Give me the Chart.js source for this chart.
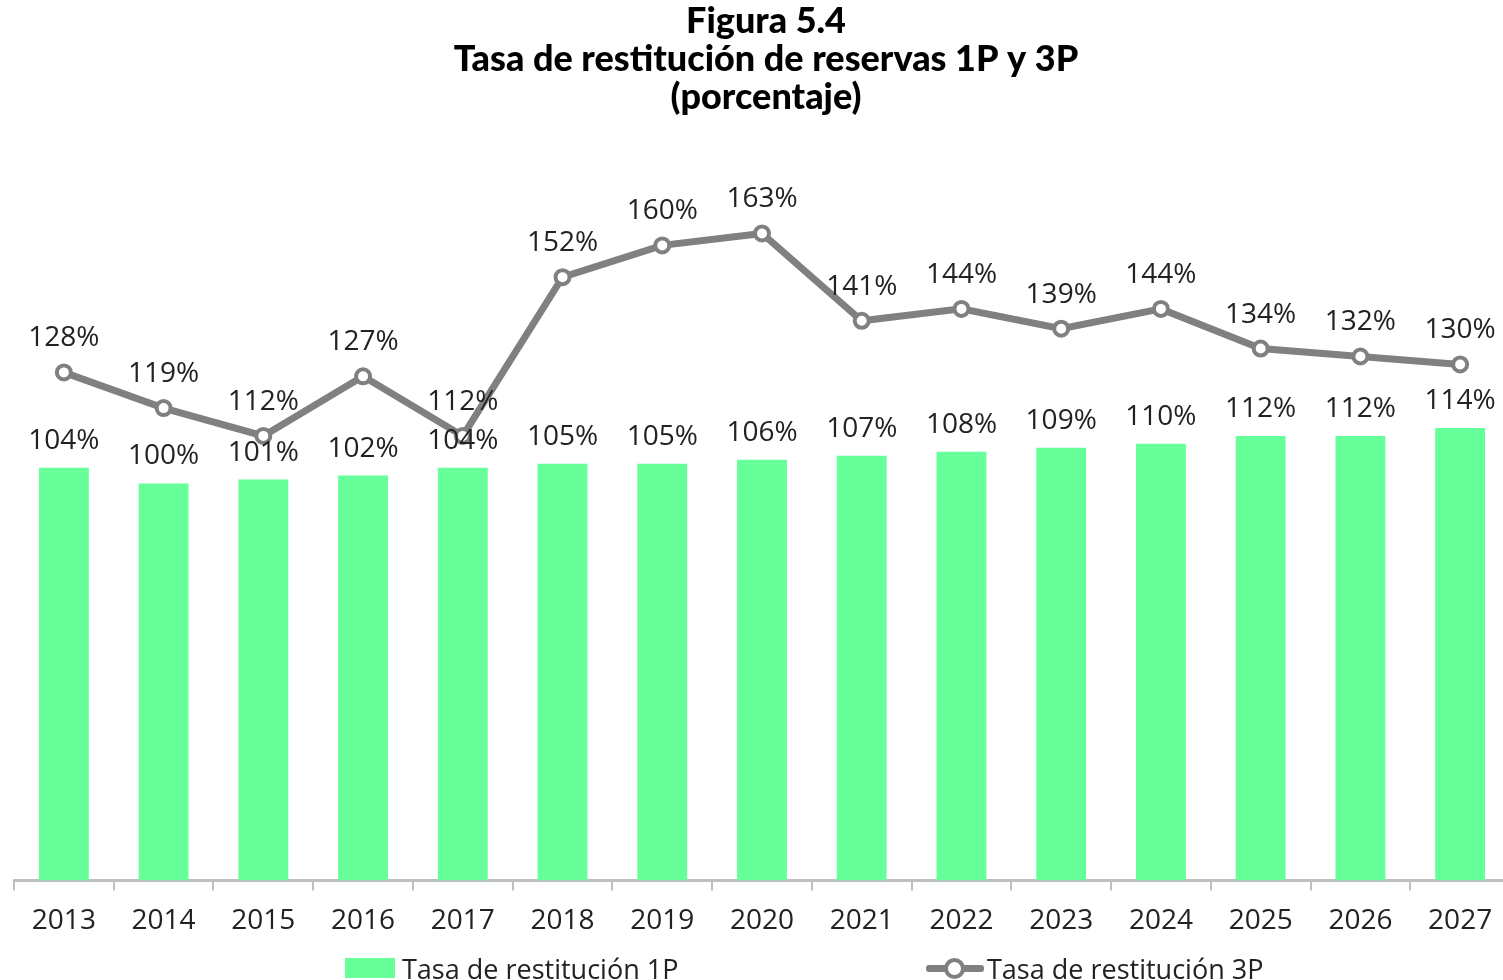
<!DOCTYPE html>
<html>
<head>
<meta charset="utf-8">
<script src="https://cdn.jsdelivr.net/npm/chart.js@4.4.1/dist/chart.umd.min.js"></script>
<style>
  html, body { margin:0; padding:0; background:#fff; overflow:hidden; }
  #wrap { position:relative; width:1503px; height:980px; overflow:hidden; }
  #chart { display:block; }
  #legend { position:absolute; top:951px; left:0; width:1503px; height:40px; font-family:"Open Sans", sans-serif; font-size:27px; color:#222; }
  .item { position:absolute; top:0; display:flex; align-items:center; height:34px; }
  .box { width:50px; height:20px; background:#66ff99; margin-right:7px; }
  .ln { position:relative; width:58px; height:7px; background:#808080; margin-right:3px; border-radius:3px; }
  .ln i { position:absolute; left:18px; top:-7px; width:13px; height:13px; border:4px solid #808080; border-radius:50%; background:#fff; }
</style>
</head>
<body>
<div id="wrap">
  <canvas id="chart" width="1521" height="980"></canvas>
  <div id="legend">
    <div class="item" style="left:345px"><span class="box"></span>Tasa de restitución 1P</div>
    <div class="item" style="left:926px"><span class="ln"><i></i></span>Tasa de restitución 3P</div>
  </div>
</div>
<script>
// Data
const years = ['2013','2014','2015','2016','2017','2018','2019','2020','2021','2022','2023','2024','2025','2026','2027'];
const tasa1P = [104, 100, 101, 102, 104, 105, 105, 106, 107, 108, 109, 110, 112, 112, 114];
const tasa3P = [128, 119, 112, 127, 112, 152, 160, 163, 141, 144, 139, 144, 134, 132, 130];
const titleLines = ['Figura 5.4', 'Tasa de restitución de reservas 1P y 3P', '(porcentaje)'];

// value labels above bars and points
const valueLabels = {
  id: 'valueLabels',
  afterDatasetsDraw(chart) {
    const ctx = chart.ctx;
    ctx.save();
    ctx.font = '28px "Open Sans", sans-serif';
    ctx.fillStyle = '#222';
    ctx.textAlign = 'center';
    ctx.textBaseline = 'middle';
    chart.data.datasets.forEach((ds, i) => {
      const meta = chart.getDatasetMeta(i);
      const off = ds.type === 'line' ? 34 : 27;
      meta.data.forEach((el, j) => {
        ctx.fillText(ds.data[j] + '%', el.x, el.y - off);
      });
    });
    ctx.restore();
  }
};

new Chart(document.getElementById('chart'), {
  type: 'bar',
  data: {
    labels: years,
    datasets: [
      {
        type: 'line',
        label: 'Tasa de restitución 3P',
        data: tasa3P,
        borderColor: '#808080',
        borderWidth: 7,
        pointRadius: 7,
        pointBorderWidth: 4,
        pointBackgroundColor: '#fff',
        pointBorderColor: '#808080',
        tension: 0,
        order: 0
      },
      {
        label: 'Tasa de restitución 1P',
        data: tasa1P,
        backgroundColor: '#66ff99',
        barPercentage: 0.5,
        categoryPercentage: 1.0,
        order: 1
      }
    ]
  },
  options: {
    responsive: false,
    animation: false,
    layout: { padding: { left: 14, right: 3, top: 0, bottom: 28 } },
    plugins: {
      legend: { display: false },
      tooltip: { enabled: false },
      title: {
        display: true,
        text: titleLines,
        color: '#000',
        font: { family: 'Lato', size: 36, weight: '900', lineHeight: 38 / 36 },
        padding: { top: 2, bottom: 50 }
      }
    },
    scales: {
      x: {
        afterFit(scale) { scale.paddingLeft = 0; scale.paddingRight = 0; },
        grid: { display: true, drawOnChartArea: false, offset: true, color: '#bfbfbf', tickLength: 10, lineWidth: 2 },
        border: { display: true, color: '#bfbfbf', width: 3 },
        ticks: { color: '#222', font: { family: '"Open Sans"', size: 28 }, padding: 14 }
      },
      y: {
        display: false,
        min: 0,
        max: 180
      }
    }
  },
  plugins: [valueLabels]
});
</script>
</body>
</html>
